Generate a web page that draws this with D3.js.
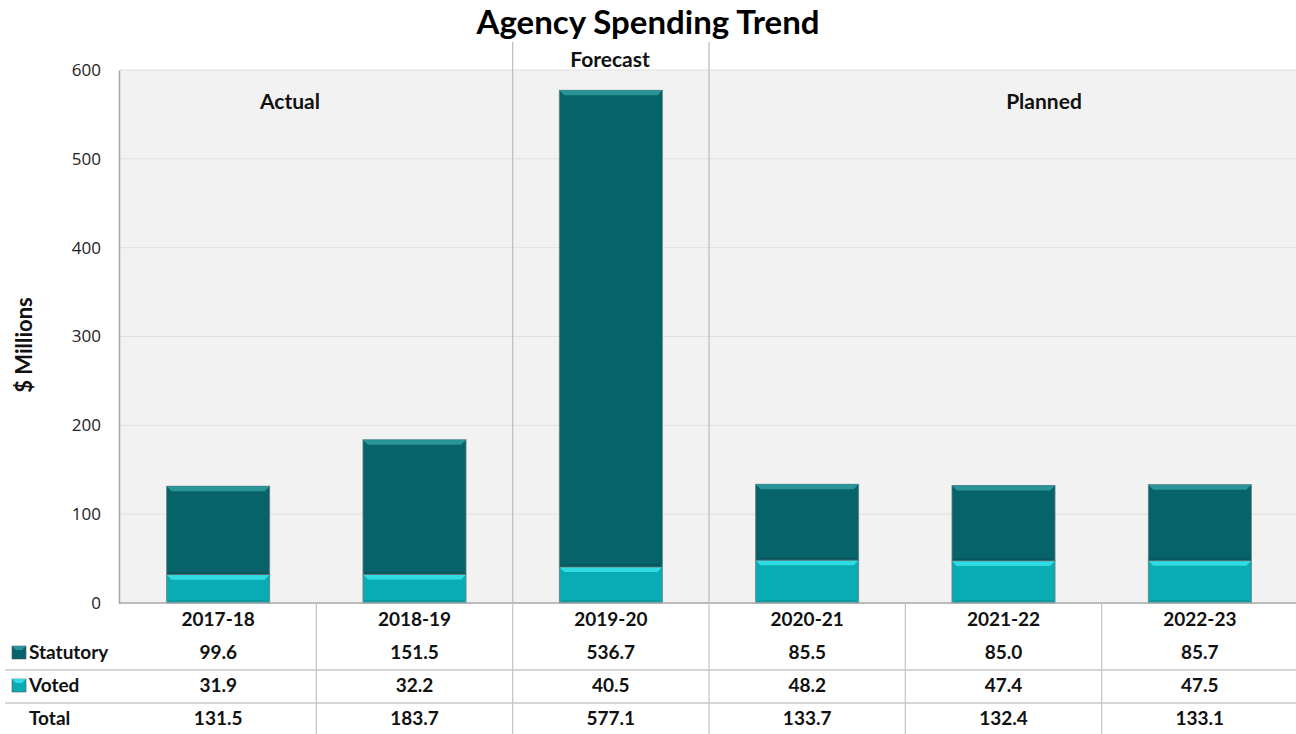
<!DOCTYPE html>
<html>
<head>
<meta charset="utf-8">
<script src="https://cdn.jsdelivr.net/npm/d3@7"></script>
<style>
  body { margin: 0; background: #fff; }
  svg { font-family: Lato, "Open Sans", sans-serif; }
</style>
</head>
<body>
<svg id="chart" width="1296" height="734"></svg>
<script>
// chart values
const years = ['2017-18', '2018-19', '2019-20', '2020-21', '2021-22', '2022-23'];
const statutory = [99.6, 151.5, 536.7, 85.5, 85.0, 85.7];
const voted = [31.9, 32.2, 40.5, 48.2, 47.4, 47.5];
const totals = [131.5, 183.7, 577.1, 133.7, 132.4, 133.1];
const yTicks = [0, 100, 200, 300, 400, 500, 600];
const periodLabels = ['Actual', 'Forecast', 'Planned'];

const svg = d3.select('#chart');
const width = +svg.attr('width');
const height = +svg.attr('height');

const plot = { left: 120, right: 1298, top: 70, bottom: 603 };
const colStat = '#07636a';
const colVoted = '#0aacb4';

const x = d3.scaleBand()
  .domain(years)
  .range([plot.left, plot.right])
  .paddingInner(0.475)
  .paddingOuter(0.2375);

const xCol = d3.scaleBand().domain(years).range([plot.left, plot.right]);

const y = d3.scaleLinear().domain([0, 600]).range([plot.bottom, plot.top]);

// plot background
svg.append('rect')
  .attr('x', plot.left).attr('y', plot.top)
  .attr('width', plot.right - plot.left).attr('height', plot.bottom - plot.top)
  .attr('fill', '#f2f2f2');

// gridlines
svg.append('g')
  .selectAll('line')
  .data(yTicks.slice(1))
  .join('line')
    .attr('x1', plot.left).attr('x2', plot.right)
    .attr('y1', d => y(d)).attr('y2', d => y(d))
    .attr('stroke', '#e0e0e0').attr('stroke-width', 1);

// y axis
const yAxis = svg.append('g')
  .attr('transform', 'translate(' + (plot.left - 1) + ',0)')
  .call(d3.axisLeft(y).tickValues(yTicks).tickSize(0).tickPadding(18));
yAxis.select('.domain').attr('stroke', '#a6a6a6').attr('stroke-width', 1.5);
yAxis.selectAll('text')
  .attr('font-size', 17)
  .attr('fill', '#222')
  .attr('font-family', '"Open Sans", sans-serif');

// period separators
const sepX = [xCol('2019-20'), xCol('2020-21')];
svg.append('g')
  .selectAll('line')
  .data(sepX)
  .join('line')
    .attr('x1', d => d).attr('x2', d => d)
    .attr('y1', 42).attr('y2', plot.bottom)
    .attr('stroke', '#bfbfbf').attr('stroke-width', 1.3);

// stacked bars
const rows = years.map((yr, i) => ({ year: yr, voted: voted[i], statutory: statutory[i] }));
const stacked = d3.stack().keys(['voted', 'statutory'])(rows);
const colors = { voted: colVoted, statutory: colStat };
const light = { voted: '#30dce4', statutory: '#2a9599' };

const barG = svg.append('g');
stacked.forEach(layer => {
  layer.forEach(d => {
    const bx = x(d.data.year);
    const bw = x.bandwidth();
    const top = y(d[1]);
    const bot = y(d[0]);
    const g = barG.append('g');
    g.append('rect')
      .attr('x', bx).attr('y', top)
      .attr('width', bw).attr('height', bot - top)
      .attr('fill', colors[layer.key])
      .attr('stroke', '#6b7f80').attr('stroke-width', 0.8);
    // bevel highlight on top edge
    const b = 5;
    g.append('path')
      .attr('d', 'M' + bx + ',' + top + 'H' + (bx + bw) + 'L' + (bx + bw - b) + ',' + (top + b) + 'H' + (bx + b) + 'Z')
      .attr('fill', light[layer.key]);
    // subtle bottom shading
    g.append('path')
      .attr('d', 'M' + bx + ',' + bot + 'H' + (bx + bw) + 'L' + (bx + bw - 3) + ',' + (bot - 3) + 'H' + (bx + 3) + 'Z')
      .attr('fill', '#000').attr('opacity', 0.1);
  });
});

// x baseline
svg.append('line')
  .attr('x1', plot.left - 1).attr('x2', plot.right)
  .attr('y1', plot.bottom).attr('y2', plot.bottom)
  .attr('stroke', '#a6a6a6').attr('stroke-width', 1.5);

// period labels (placed like the original, not centred on spans)
const periodPos = [[290, 109], [610, 67], [1044, 109]];
svg.append('g')
  .selectAll('text')
  .data(periodLabels)
  .join('text')
    .attr('x', (d, i) => periodPos[i][0])
    .attr('y', (d, i) => periodPos[i][1])
    .attr('text-anchor', 'middle')
    .attr('font-size', 21)
    .attr('font-weight', 'bold')
    .attr('fill', '#111')
    .text(d => d);

// title
svg.append('text')
  .attr('x', width / 2).attr('y', 34)
  .attr('text-anchor', 'middle')
  .attr('font-size', 33)
  .attr('font-weight', 'bold')
  .attr('fill', '#000')
  .text('Agency Spending Trend');

// y label
svg.append('text')
  .attr('transform', 'translate(32,345)rotate(-90)')
  .attr('text-anchor', 'middle')
  .attr('font-size', 22)
  .attr('font-weight', 'bold')
  .attr('fill', '#111')
  .text('$ Millions');

// data table
const rowY = { head: 626, stat: 659, voted: 692, total: 725 };
const table = svg.append('g');

table.selectAll('line.v')
  .data(years.slice(1))
  .join('line')
    .attr('class', 'v')
    .attr('x1', d => xCol(d)).attr('x2', d => xCol(d))
    .attr('y1', plot.bottom).attr('y2', height)
    .attr('stroke', '#c8c8c8').attr('stroke-width', 1.3);
table.selectAll('line.h')
  .data([670, 703])
  .join('line')
    .attr('class', 'h')
    .attr('x1', 5).attr('x2', width)
    .attr('y1', d => d).attr('y2', d => d)
    .attr('stroke', '#c8c8c8').attr('stroke-width', 1.3);

const tableRows = [
  { y: rowY.head, vals: years },
  { y: rowY.stat, vals: statutory.map(v => v.toFixed(1)) },
  { y: rowY.voted, vals: voted.map(v => v.toFixed(1)) },
  { y: rowY.total, vals: totals.map(v => v.toFixed(1)) }
];
tableRows.forEach(r => {
  table.append('g')
    .selectAll('text')
    .data(r.vals)
    .join('text')
      .attr('x', (d, i) => xCol(years[i]) + xCol.bandwidth() / 2)
      .attr('y', r.y)
      .attr('text-anchor', 'middle')
      .attr('font-size', 19)
      .attr('font-weight', 'bold')
      .attr('fill', '#111')
      .text(d => d);
});

// row labels with legend keys
const legendRows = [
  { label: 'Statutory', y: rowY.stat, color: colStat, light: light.statutory },
  { label: 'Voted', y: rowY.voted, color: colVoted, light: light.voted },
  { label: 'Total', y: rowY.total, color: null }
];
legendRows.forEach(r => {
  if (r.color) {
    table.append('rect')
      .attr('x', 12).attr('y', r.y - 13)
      .attr('width', 14).attr('height', 13)
      .attr('fill', r.color)
      .attr('stroke', '#4a5a5c').attr('stroke-width', 0.6);
    table.append('path')
      .attr('d', 'M12,' + (r.y - 13) + 'H26L22,' + (r.y - 9) + 'H16Z')
      .attr('fill', r.light);
  }
  table.append('text')
    .attr('x', 29).attr('y', r.y)
    .attr('font-size', 19)
    .attr('font-weight', 'bold')
    .attr('fill', '#111')
    .text(r.label);
});
</script>
</body>
</html>
